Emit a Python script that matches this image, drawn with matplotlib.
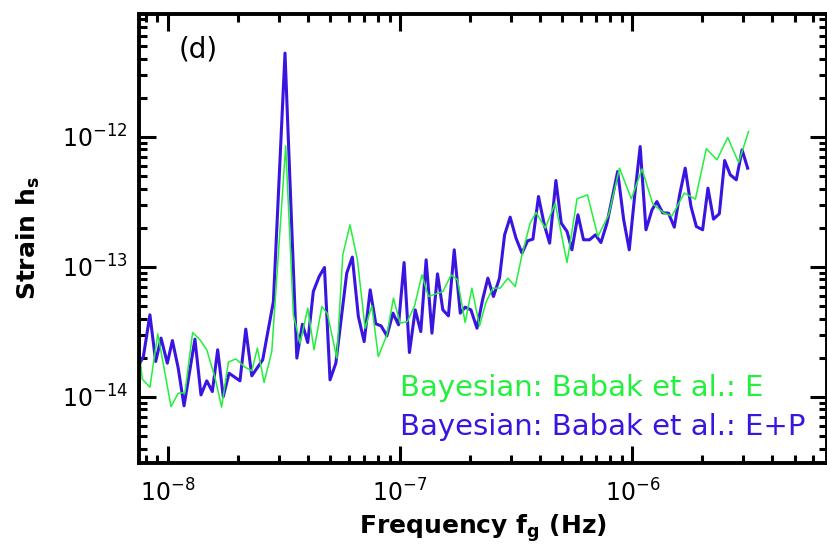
import numpy as np
import matplotlib.pyplot as plt
from matplotlib.ticker import LogLocator, NullFormatter

# Bayesian upper limits on strain, log10 values (frequency in Hz)
log_f_e = [-8.125, -8.111, -8.078, -8.044, -7.987, -7.956, -7.927, -7.894, -7.862, -7.833,
           -7.797, -7.769, -7.740, -7.708, -7.668, -7.639, -7.615, -7.586, -7.553, -7.493,
           -7.460, -7.431, -7.398, -7.371, -7.337, -7.313, -7.273, -7.247, -7.216, -7.184,
           -7.151, -7.122, -7.094, -7.057, -7.029, -7.000, -6.969, -6.938, -6.906, -6.878,
           -6.816, -6.780, -6.753, -6.720, -6.691, -6.658, -6.629, -6.600, -6.569, -6.536,
           -6.504, -6.475, -6.440, -6.414, -6.375, -6.332, -6.281, -6.238, -6.193, -6.148,
           -6.102, -6.055, -6.004, -5.958, -5.912, -5.865, -5.829, -5.776, -5.728, -5.681,
           -5.635, -5.589, -5.542, -5.499]
log_h_e = [-13.625, -13.864, -13.925, -13.515, -14.075, -13.972, -13.967, -13.505, -13.562, -13.638,
           -13.856, -14.079, -13.733, -13.708, -13.772, -13.800, -13.625, -13.890, -13.652, -12.069,
           -13.369, -13.587, -13.318, -13.638, -13.305, -13.362, -13.702, -12.908, -12.677, -12.946,
           -13.472, -13.300, -13.690, -13.523, -13.241, -13.433, -13.421, -13.300, -13.062, -13.228,
           -13.190, -13.062, -13.100, -13.428, -13.164, -13.454, -13.267, -13.164, -13.164, -13.087,
           -13.152, -12.908, -12.664, -12.582, -12.702, -12.510, -12.967, -12.477, -12.446, -12.767,
           -12.600, -12.241, -12.477, -12.248, -12.515, -12.585, -12.608, -12.433, -12.479, -12.092,
           -12.177, -12.005, -12.198, -11.959]

log_f_ep = [-8.125, -8.106, -8.078, -8.053, -8.030, -8.003, -7.981, -7.956, -7.931, -7.884,
            -7.858, -7.833, -7.809, -7.786, -7.762, -7.737, -7.690, -7.665, -7.639, -7.592,
            -7.546, -7.496, -7.445, -7.421, -7.398, -7.374, -7.349, -7.326, -7.302, -7.277,
            -7.230, -7.206, -7.180, -7.155, -7.129, -7.105, -7.082, -7.057, -7.031, -7.007,
            -6.983, -6.960, -6.935, -6.911, -6.888, -6.863, -6.839, -6.816, -6.792, -6.767,
            -6.741, -6.720, -6.695, -6.669, -6.645, -6.622, -6.598, -6.572, -6.550, -6.526,
            -6.501, -6.475, -6.451, -6.428, -6.404, -6.379, -6.356, -6.329, -6.306, -6.281,
            -6.260, -6.234, -6.210, -6.184, -6.159, -6.135, -6.109, -6.063, -6.037, -6.013,
            -5.990, -5.966, -5.941, -5.915, -5.894, -5.869, -5.844, -5.819, -5.796, -5.772,
            -5.747, -5.724, -5.697, -5.674, -5.650, -5.625, -5.602, -5.578, -5.552, -5.527,
            -5.503]
log_h_ep = [-13.754, -13.690, -13.369, -13.728, -13.548, -13.741, -13.567, -13.779, -14.069, -13.556,
            -13.985, -13.877, -13.959, -13.638, -13.998, -13.818, -13.877, -13.479, -13.838, -13.715,
            -13.267, -11.356, -13.702, -13.441, -13.582, -13.190, -13.075, -13.005, -13.869, -13.741,
            -13.048, -12.925, -13.382, -13.575, -13.177, -13.438, -13.454, -13.531, -13.356, -13.446,
            -12.967, -13.659, -13.331, -13.498, -12.946, -13.510, -13.054, -13.331, -13.377, -12.869,
            -13.356, -13.310, -13.331, -13.472, -13.254, -13.087, -13.228, -13.087, -12.754, -12.618,
            -12.779, -12.895, -12.800, -12.787, -12.459, -12.677, -12.818, -12.336, -12.664, -12.728,
            -12.869, -12.600, -12.792, -12.792, -12.754, -12.813, -12.664, -12.267, -12.638, -12.869,
            -12.459, -12.075, -12.715, -12.562, -12.498, -12.585, -12.587, -12.695, -12.446, -12.241,
            -12.536, -12.690, -12.715, -12.395, -12.633, -12.592, -12.182, -12.292, -12.331, -12.100,
            -12.241]

xticks = [1e-8, 1e-7, 1e-6]
yticks = [1e-14, 1e-13, 1e-12]
label_e = 'Bayesian: Babak et al.: E'
label_ep = 'Bayesian: Babak et al.: E+P'
green = '#22f03c'
blue = '#3a14e0'

fig = plt.figure(figsize=(8.28, 5.57), dpi=100)
ax = fig.add_axes([139/828, 94/557, 688/828, 449/557])

ax.plot(10**np.array(log_f_ep), 10**np.array(log_h_ep), color=blue, lw=2.2)
ax.plot(10**np.array(log_f_e), 10**np.array(log_h_e), color=green, lw=1.1)

ax.set_xscale('log')
ax.set_yscale('log')
ax.set_xticks(xticks)
ax.set_yticks(yticks)
ax.set_xlim(7.5e-9, 6.9e-6)
ax.set_ylim(3.1e-15, 8.8e-12)

for s in ax.spines.values():
    s.set_linewidth(2.8)
ax.xaxis.set_minor_locator(LogLocator(base=10, subs=np.arange(2, 10)))
ax.yaxis.set_minor_locator(LogLocator(base=10, subs=np.arange(2, 10)))
ax.xaxis.set_minor_formatter(NullFormatter())
ax.yaxis.set_minor_formatter(NullFormatter())
ax.tick_params(which='both', direction='in', top=True, right=True, width=2.2)
ax.tick_params(which='major', length=12, labelsize=17)
ax.tick_params(axis='x', which='major', pad=12)
ax.tick_params(axis='y', which='major', pad=8)
ax.tick_params(which='minor', length=6)

ax.set_xlabel(r'Frequency f$_{\bf g}$ (Hz)', fontsize=18, fontweight='bold', labelpad=4)
ax.set_ylabel(r'Strain h$_{\bf s}$', fontsize=18, fontweight='bold', labelpad=14)

ax.text(0.057, 0.92, '(d)', transform=ax.transAxes, fontsize=20, va='center')
ax.text(0.380, 0.167, label_e, transform=ax.transAxes, fontsize=21, color=green, va='center')
ax.text(0.380, 0.080, label_ep, transform=ax.transAxes, fontsize=21, color=blue, va='center')

fig.savefig('out.png', dpi=100)
